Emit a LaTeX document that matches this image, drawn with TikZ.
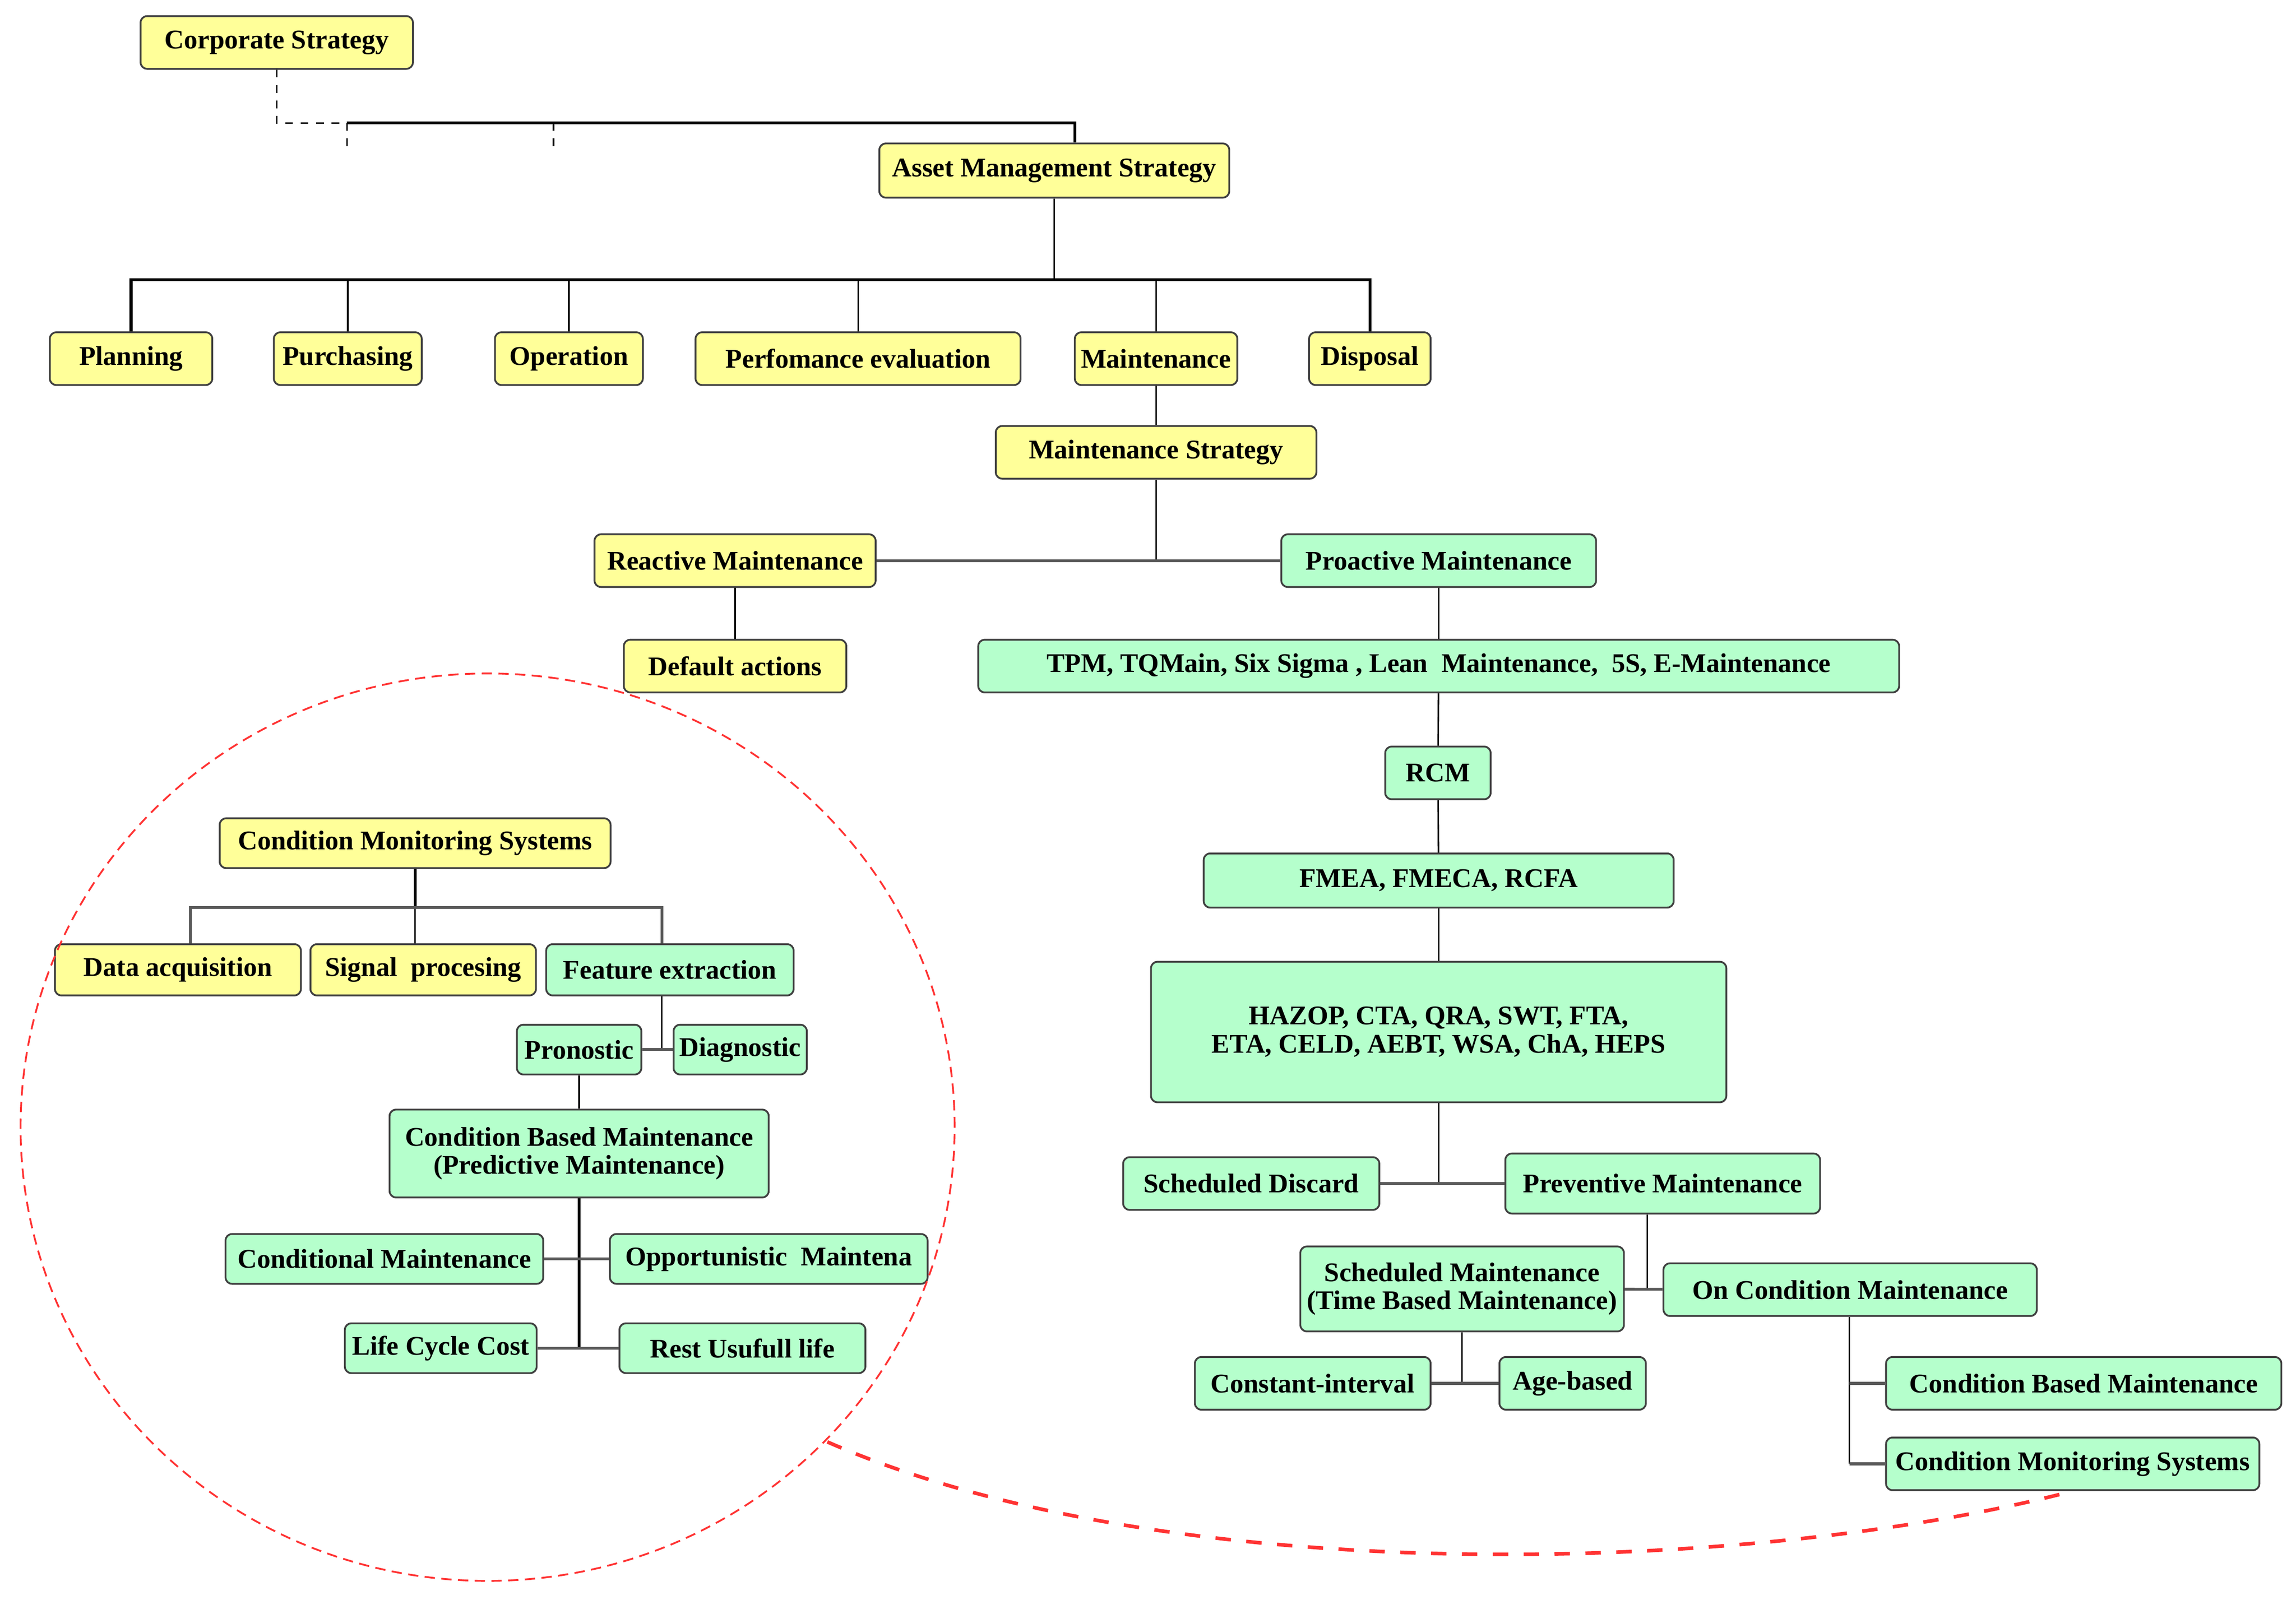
\documentclass[tikz,border=0pt]{standalone}
\usepackage{fontspec}
\setmainfont{Liberation Serif}
\usepackage{tikz}
\definecolor{boxyellow}{rgb}{1, 1, 0.6}
\definecolor{boxgreen}{rgb}{0.71, 1, 0.8}
\definecolor{ringred}{rgb}{1, 0.2, 0.2}
\tikzstyle{box}=[draw=black!75,line width=0.7pt,rounded corners=2.5pt,inner sep=1pt,align=center,font=\bfseries\fontsize{10.5}{11}\selectfont]
\tikzstyle{ybox}=[box,fill=boxyellow,minimum height=0.72cm]
\tikzstyle{gbox}=[box,fill=boxgreen,minimum height=0.72cm]
\tikzstyle{bus}=[line width=1.1pt]
\tikzstyle{link}=[line width=0.6pt]
\tikzstyle{hlink}=[draw=black!65,line width=1.1pt]
\begin{document}
\begin{tikzpicture}[x=0.02cm,y=-0.02cm]
\useasboundingbox (0,0) rectangle (1568,1093);
\node[ybox, minimum width=3.72cm] (corp) at (189,29) {Corporate Strategy};
\node[ybox, minimum width=4.78cm, minimum height=0.74cm] (ams) at (720,116.5) {Asset Management Strategy};
\node[ybox, minimum width=2.22cm] (plan) at (89.5,245) {Planning};
\node[ybox, minimum width=2.02cm] (purch) at (237.5,245) {Purchasing};
\node[ybox, minimum width=2.02cm] (oper) at (388.5,245) {Operation};
\node[ybox, minimum width=4.44cm] (perf) at (586,245) {Perfomance evaluation};
\node[ybox, minimum width=2.22cm] (maint) at (789.5,245) {Maintenance};
\node[ybox, minimum width=1.66cm] (disp) at (935.5,245) {Disposal};
\node[ybox, minimum width=4.38cm] (mstrat) at (789.5,309) {Maintenance Strategy};
\node[ybox, minimum width=3.84cm] (react) at (502,383) {Reactive Maintenance};
\node[gbox, minimum width=4.30cm] (proact) at (982.5,383) {Proactive Maintenance};
\node[ybox, minimum width=3.04cm] (deflt) at (502,455) {Default actions};
\node[gbox, minimum width=12.58cm] (tpm) at (982.5,455) {TPM, TQMain, Six Sigma , Lean~~Maintenance,~~5S, E-Maintenance};
\node[gbox, minimum width=1.44cm] (rcm) at (982,528) {RCM};
\node[gbox, minimum width=6.42cm, minimum height=0.74cm] (fmea) at (982.5,601.5) {FMEA, FMECA, RCFA};
\node[gbox, minimum width=7.86cm, minimum height=1.92cm] (hazop) at (982.5,705) {HAZOP, CTA, QRA, SWT, FTA,\\ETA, CELD, AEBT, WSA, ChA, HEPS};
\node[gbox, minimum width=3.50cm] (sdisc) at (854.5,808.5) {Scheduled Discard};
\node[gbox, minimum width=4.30cm, minimum height=0.82cm] (prev) at (1135.5,808.5) {Preventive Maintenance};
\node[gbox, minimum width=4.42cm, minimum height=1.16cm] (smaint) at (998.5,880.5) {Scheduled Maintenance\\(Time Based Maintenance)};
\node[gbox, minimum width=5.10cm] (oncond) at (1263.5,881) {On Condition Maintenance};
\node[gbox, minimum width=3.22cm] (cint) at (896.5,945) {Constant-interval};
\node[gbox, minimum width=2.00cm] (age) at (1074,945) {Age-based};
\node[gbox, minimum width=5.40cm] (cbm) at (1423,945) {Condition Based Maintenance};
\node[gbox, minimum width=5.10cm] (cms) at (1415.5,1000) {Condition Monitoring Systems};
\node[ybox, minimum width=5.34cm, minimum height=0.68cm] (cmsin) at (283.5,576) {Condition Monitoring Systems};
\node[ybox, minimum width=3.36cm, minimum height=0.70cm] (daq) at (121.5,662.5) {Data acquisition};
\node[ybox, minimum width=3.08cm, minimum height=0.70cm] (sig) at (289,662.5) {Signal~~procesing};
\node[gbox, minimum width=3.38cm, minimum height=0.70cm] (feat) at (457.5,662.5) {Feature extraction};
\node[gbox, minimum width=1.70cm, minimum height=0.68cm] (pron) at (395.5,717) {Pronostic};
\node[gbox, minimum width=1.82cm, minimum height=0.68cm] (diag) at (505.5,717) {Diagnostic};
\node[gbox, minimum width=5.18cm, minimum height=1.20cm] (cbmp) at (395.5,788) {Condition Based Maintenance\\(Predictive Maintenance)};
\node[gbox, minimum width=4.34cm, minimum height=0.68cm] (cond) at (262.5,860) {Conditional Maintenance};
\node[gbox, minimum width=4.34cm, minimum height=0.68cm] (opp) at (525,860) {Opportunistic~~Maintena};
\node[gbox, minimum width=2.62cm, minimum height=0.68cm] (lcc) at (301,921) {Life Cycle Cost};
\node[gbox, minimum width=3.36cm, minimum height=0.68cm] (rul) at (507,921) {Rest Usufull life};
\coordinate (c1) at (237,84);
\coordinate (c2) at (378,84);
\coordinate (bus1) at (720,191);
\coordinate (bus2) at (283.5,620);
\coordinate (ringend) at (565,985);
\draw[link, dashed] (corp.south) |- (c1);
\draw[bus] (c1) -| ([xshift=0.28cm]ams.north);
\draw[link, dashed] (c1) -- ++(0,21);
\draw[link, dashed] (c2) -- ++(0,21);
\draw[link] (ams.south) -- (bus1);
\draw[bus] (plan.north) |- (bus1) -| (disp.north);
\foreach \n in {purch,oper,perf,maint}
  \draw[link] (\n.north) -- (\n.north |- bus1);
\draw[link] (maint) -- (mstrat);
\draw[link] (mstrat.south) -- (mstrat.south |- react);
\draw[hlink] (react) -- (proact);
\draw[link] (react) -- (deflt);
\draw[link] (proact) -- (tpm);
\draw[link] (tpm) -- (rcm);
\draw[link] (rcm) -- (fmea);
\draw[link] (fmea) -- (hazop);
\draw[link] (hazop.south) -- (hazop.south |- sdisc);
\draw[hlink] (sdisc) -- (prev);
\draw[link] ([xshift=-0.21cm]prev.south) -- ([xshift=-0.21cm]prev.south |- oncond);
\draw[hlink] (smaint) -- (oncond);
\draw[link] (smaint.south) -- (smaint.south |- cint);
\draw[hlink] (cint) -- (age);
\draw[link] ([xshift=-0.01cm]oncond.south) -- ([xshift=-0.01cm]oncond.south |- cms);
\draw[hlink] ([xshift=-0.01cm]oncond.south |- cbm) -- (cbm);
\draw[hlink] ([xshift=-0.01cm]oncond.south |- cms) -- (cms);
\draw[bus] (cmsin.south) -- (bus2);
\draw[link] (bus2) -- (sig.north -| bus2);
\draw[hlink] ([xshift=0.17cm]daq.north) |- (bus2) -| ([xshift=-0.11cm]feat.north);
\draw[link] ([xshift=-0.11cm]feat.south) -- ([xshift=-0.11cm]feat.south |- pron);
\draw[hlink] (pron) -- (diag);
\draw[link] (pron) -- (cbmp);
\draw[bus] (cbmp.south) -- (cbmp.south |- lcc);
\draw[hlink] (cond) -- (opp);
\draw[hlink] (lcc) -- (rul);
\draw[ringred, line width=0.7pt, dash pattern=on 4pt off 2.5pt] (333,770) ellipse [x radius=6.38cm, y radius=6.2cm];
\draw[ringred, line width=1.4pt, dash pattern=on 6pt off 6pt] (ringend) .. controls (800,1088) and (1200,1075) .. (cms.south);
\end{tikzpicture}
\end{document}
